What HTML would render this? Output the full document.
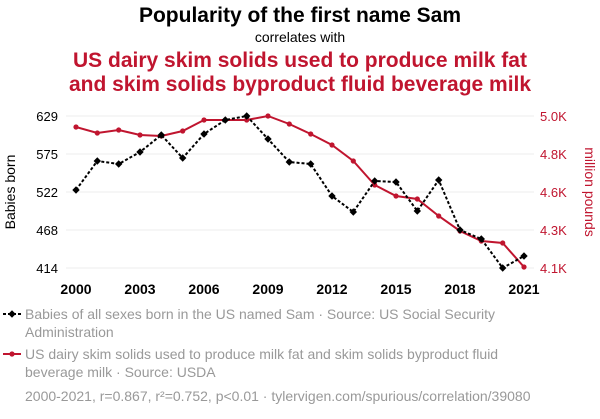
<!DOCTYPE html>
<html><head><meta charset="utf-8"><style>
body{margin:0;background:#fff;width:600px;height:414px;overflow:hidden;font-family:"Liberation Sans",Arial,sans-serif}
</style></head><body>
<svg width="600" height="414" xmlns="http://www.w3.org/2000/svg" font-family="Liberation Sans, Arial, sans-serif">
<defs>
<marker id="dia" markerWidth="8" markerHeight="8" refX="4" refY="4" markerUnits="userSpaceOnUse"><path d="M4 0.3 L7.7 4 L4 7.7 L0.3 4Z" fill="#000"/></marker>
<marker id="dot" markerWidth="6" markerHeight="6" refX="3" refY="3" markerUnits="userSpaceOnUse"><circle cx="3" cy="3" r="2.6" fill="#c0152f"/></marker>
</defs>
<text x="300" y="22" text-anchor="middle" font-size="21" font-weight="bold" fill="#000">Popularity of the first name Sam</text>
<text x="300" y="42" text-anchor="middle" font-size="14" fill="#000">correlates with</text>
<text x="300" y="67" text-anchor="middle" font-size="21" font-weight="bold" fill="#c0152f">US dairy skim solids used to produce milk fat</text>
<text x="300" y="91" text-anchor="middle" font-size="21" font-weight="bold" fill="#c0152f">and skim solids byproduct fluid beverage milk</text>
<g stroke="#eee" stroke-width="1">
<line x1="66" x2="534" y1="116" y2="116"/><line x1="66" x2="534" y1="154" y2="154"/><line x1="66" x2="534" y1="192" y2="192"/><line x1="66" x2="534" y1="230" y2="230"/><line x1="66" x2="534" y1="268" y2="268"/>
</g>
<g font-size="13" fill="#000" text-anchor="end">
<text x="58" y="121">629</text><text x="58" y="159">575</text><text x="58" y="197">522</text><text x="58" y="235">468</text><text x="58" y="273">414</text>
</g>
<g font-size="13" fill="#c0152f" text-anchor="start">
<text x="540" y="121">5.0K</text><text x="540" y="159">4.8K</text><text x="540" y="197">4.6K</text><text x="540" y="235">4.3K</text><text x="540" y="273">4.1K</text>
</g>
<text transform="translate(15,192) rotate(-90)" text-anchor="middle" font-size="14" fill="#000">Babies born</text>
<text transform="translate(585,192) rotate(90)" text-anchor="middle" font-size="14" fill="#c0152f">million pounds</text>
<g font-size="14" font-weight="bold" fill="#000" text-anchor="middle">
<text x="76" y="294">2000</text><text x="140" y="294">2003</text><text x="204" y="294">2006</text><text x="268" y="294">2009</text><text x="332" y="294">2012</text><text x="396" y="294">2015</text><text x="460" y="294">2018</text><text x="524" y="294">2021</text>
</g>
<polyline fill="none" stroke="#c0152f" stroke-width="2" marker-start="url(#dot)" marker-mid="url(#dot)" marker-end="url(#dot)" points="76,127 97.3,133 118.7,130 140,135 161.3,136 182.7,131 204,120 225.3,120 246.7,120 268,116 289.3,124 310.7,134 332,145 353.3,161 374.7,185 396,196 417.3,199 438.7,216 460,231 481.3,241 502.7,243 524,267"/>
<polyline fill="none" stroke="#000" stroke-width="2" stroke-dasharray="3,2" marker-start="url(#dia)" marker-mid="url(#dia)" marker-end="url(#dia)" points="76,190 97.3,161 118.7,164 140,152 161.3,135 182.7,158 204,134 225.3,120 246.7,116 268,139 289.3,162 310.7,164 332,196 353.3,212 374.7,181 396,182 417.3,211 438.7,180 460,230 481.3,239 502.7,268 524,256"/>
<line x1="3" x2="21" y1="314" y2="314" stroke="#000" stroke-width="2" stroke-dasharray="3,2"/>
<path d="M12 310.3 L15.7 314 L12 317.7 L8.3 314Z" fill="#000"/>
<g font-size="14" fill="#999">
<text x="25" y="319">Babies of all sexes born in the US named Sam · Source: US Social Security</text>
<text x="25" y="337">Administration</text>
<text x="25" y="359">US dairy skim solids used to produce milk fat and skim solids byproduct fluid</text>
<text x="25" y="377">beverage milk · Source: USDA</text>
<text x="25" y="401">2000-2021, r=0.867, r²=0.752, p&lt;0.01 · tylervigen.com/spurious/correlation/39080</text>
</g>
<line x1="3" x2="21" y1="354" y2="354" stroke="#c0152f" stroke-width="2"/>
<circle cx="12" cy="354" r="2.6" fill="#c0152f"/>
</svg>
</body></html>
